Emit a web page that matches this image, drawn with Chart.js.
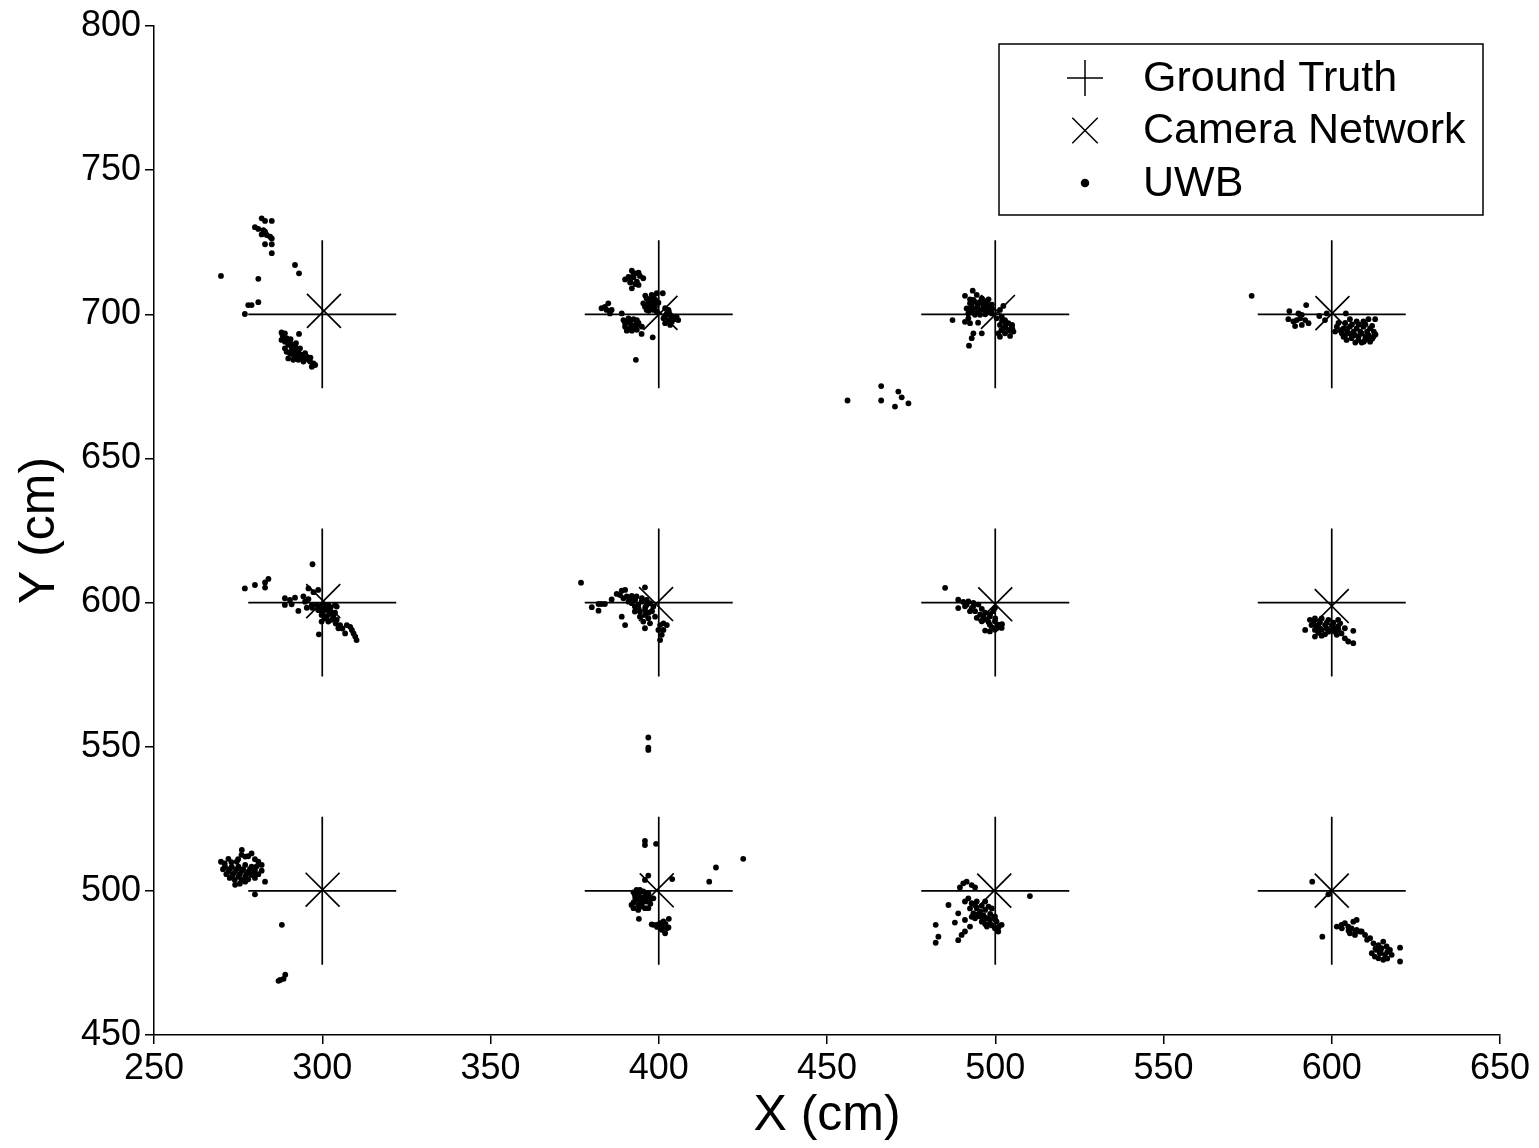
<!DOCTYPE html>
<html>
<head>
<meta charset="utf-8">
<title>Localization: Ground Truth vs Camera Network vs UWB</title>
<script src="https://cdn.jsdelivr.net/npm/chart.js@4/dist/chart.umd.min.js"></script>
<style>
  html, body { margin: 0; padding: 0; background: #fff; }
  #wrap { width: 1539px; height: 1148px; }
</style>
</head>
<body>
<div id="wrap"><canvas id="plot" width="1539" height="1148"></canvas></div>
<script>
// Grid of reference positions (cm)
const gridX = [300, 400, 500, 600];
const gridY = [700, 600, 500];

// Camera network estimates, one per grid position (row by row, top to bottom)
const cameraX = [300.5, 400.5, 500.8, 600.2, 300.3, 399.2, 500.0, 600.0, 300.1, 399.4, 499.7, 600.0];
const cameraY = [701.2, 700.5, 700.8, 700.4, 600.5, 599.5, 599.4, 598.8, 500.4, 500.2, 500.1, 500.1];

// UWB position fixes [x, y] in cm, grouped by the grid position being measured
const uwb300_700 = [
  [282.0,733.3],[283.0,732.4],[285.0,732.4],[280.0,730.2],[281.0,729.6],[282.5,729.2],[283.0,728.7],
  [282.0,727.7],[283.5,727.5],[284.5,726.9],[285.0,726.3],[283.0,724.3],[285.0,724.3],[285.0,721.2],
  [291.9,717.1],[293.1,714.2],[269.9,713.3],[281.0,712.3],[278.0,703.2],[279.0,703.2],[281.0,704.2],
  [277.0,700.1],[293.1,693.2],
  [287.9,693.7],[288.9,693.4],[288.4,692.2],[287.9,691.1],[288.9,690.5],[289.4,691.7],[289.9,689.4],
  [290.9,688.8],[291.9,689.4],[292.4,688.2],[292.9,687.0],[293.4,685.9],[292.4,685.3],[291.4,685.9],
  [290.4,686.5],[289.4,687.0],[289.9,684.7],[291.4,684.2],[292.9,684.2],[293.9,684.7],[294.4,683.6],
  [295.4,685.3],[295.9,684.2],[296.4,683.6],[297.4,683.0],[297.9,682.4],[296.9,681.8],[294.9,686.5],
  [293.4,688.2],[288.9,688.2],[293.9,685.9],[291.9,687.0],
  [288.2,692.8],[289.5,690.5],[290.5,690.0],[291.0,687.8],[293.0,686.5],[294.5,685.0],[296.5,685.0],
  [292.2,690.0],[290.6,691.4]
];
const uwb400_700 = [
  [392.0,715.1],[393.0,714.2],[394.0,714.4],[391.0,713.0],[392.5,712.8],[394.4,713.3],[395.4,712.5],
  [390.0,712.1],[391.5,711.9],[393.5,711.3],[393.0,710.5],[394.0,710.2],[392.0,709.0],
  [399.4,707.3],[401.2,707.3],[397.9,706.7],[396.4,705.5],[397.4,705.2],[398.4,704.4],[395.4,703.8],
  [396.9,703.8],[397.9,703.2],[398.9,702.6],[395.9,702.6],[397.4,702.1],[396.4,701.5],[398.4,701.5],
  [399.4,700.9],[399.9,704.0],
  [401.9,702.1],[402.9,701.5],[402.4,700.3],[403.4,699.8],[404.4,699.2],[401.4,698.6],[402.9,698.0],
  [403.9,697.4],[404.8,698.3],[405.8,698.0],[401.9,696.9],[403.4,696.3],[405.3,699.2],
  [383.0,702.1],[384.0,702.6],[385.0,703.8],[384.5,701.5],[386.0,701.5],[385.5,700.3],[389.0,700.3],
  [389.5,698.0],[391.0,698.6],[392.5,698.3],[393.5,697.4],[390.0,696.9],[391.5,696.9],[393.0,696.3],
  [394.0,696.3],[390.0,695.7],[391.5,695.1],[393.0,695.1],[390.5,694.3],[392.0,694.3],[393.5,694.6],
  [395.0,695.7],[394.9,693.2],[398.2,692.0],[393.2,684.2],
  [396.0,706.5],[398.5,706.0],[397.0,704.0],[399.0,705.0],[396.0,703.0],[398.5,703.5],[397.0,701.2],
  [403.0,700.8],[404.0,698.8],[402.0,699.5],[391.0,697.5],[392.0,696.0],[393.5,698.0],[392.5,695.0],
  [391.0,694.8],[394.0,697.0],[392.5,713.8],[391.5,711.0]
];
const uwb500_700 = [
  [456.1,670.1],[466.1,675.1],[466.1,670.1],[471.2,673.2],[472.2,671.2],[470.2,668.0],[474.2,669.1],
  [491.0,706.4],[493.3,708.2],[494.5,706.7],[496.0,705.5],[498.0,705.2],[493.5,705.0],[492.5,703.8],
  [495.0,703.8],[496.5,703.2],[498.0,702.7],[499.0,701.7],[494.5,702.1],[493.0,701.5],[496.0,701.5],
  [497.5,700.9],[492.0,700.3],[494.0,699.8],[495.5,699.8],[502.4,702.9],[501.4,701.5],[487.3,698.0],
  [491.0,697.4],[492.5,696.9],[494.9,697.1],[492.0,698.6],[500.4,698.6],[501.9,699.2],[502.9,698.0],
  [503.9,696.9],[501.4,696.3],[502.4,695.1],[504.4,694.6],[505.4,694.0],[500.9,693.4],[502.9,693.4],
  [504.4,692.5],[501.4,692.2],[493.5,693.4],[496.0,693.4],[493.0,691.7],[492.2,689.1],[497.5,703.8],
  [504.9,695.7],
  [492.5,705.2],[494.0,704.3],[495.5,704.3],[497.0,704.4],[499.0,703.3],[493.0,702.8],[494.8,703.0],
  [496.5,702.3],[498.0,701.5],[491.5,702.0],[493.5,700.5],[495.0,700.8],[497.0,700.0],[499.0,700.3],
  [503.0,697.3],[504.0,694.5],[503.0,695.8],[501.8,694.5],[505.0,696.3],[502.0,697.8]
];
const uwb600_700 = [
  [576.2,706.4],[592.4,703.2],[587.4,701.1],[590.1,700.3],[591.1,699.8],[587.1,698.3],[588.6,697.5],
  [589.6,698.0],[590.6,698.6],[592.1,698.0],[593.1,696.9],[589.1,695.9],[591.1,696.3],[596.3,699.4],
  [598.5,700.3],[604.2,700.3],[612.9,698.3],[598.0,698.0],
  [605.4,698.3],[607.4,697.5],[609.4,697.5],[610.9,698.3],[601.5,695.7],[603.5,695.1],[605.4,695.7],
  [607.4,695.1],[609.4,695.7],[611.4,695.1],[601.0,694.0],[603.0,693.4],[605.0,693.4],[606.9,692.8],
  [608.9,693.4],[610.9,692.8],[603.5,692.2],[605.9,691.7],[607.9,691.1],[609.9,691.1],[611.4,690.5],
  [608.9,690.2],[604.4,691.1],[612.4,692.2],
  [602.0,697.0],[604.0,697.0],[606.0,696.5],[608.0,696.5],[610.0,696.5],[612.0,696.0],[602.5,694.5],
  [604.5,694.5],[606.5,694.0],[608.5,694.0],[610.5,694.0],[612.5,694.0],[604.0,692.8],[606.0,692.5],
  [608.0,692.3],[610.0,692.2],[612.0,691.5],[607.0,690.2],[609.5,690.5],[611.0,691.8],[613.0,693.0]
];
const uwb300_600 = [
  [297.1,613.3],[277.0,604.9],[280.0,606.1],[283.0,605.2],[283.0,607.0],[284.0,608.2],[295.9,604.9],
  [298.8,604.4],[297.4,603.6],[288.9,601.5],[290.4,600.9],[291.9,601.7],[288.9,599.2],[290.9,599.4],
  [294.4,602.1],[294.9,600.3],[295.9,601.2],[292.9,597.1],[295.4,598.2],[296.9,599.2],[298.4,599.2],
  [299.3,598.6],[300.3,599.2],[301.8,599.2],[303.8,599.2],[298.8,597.4],[300.3,596.9],[301.8,597.4],
  [302.8,596.6],[299.8,595.7],[301.3,595.1],[303.3,595.1],[299.8,593.4],[301.8,593.4],[304.3,594.0],
  [305.3,592.2],[304.8,591.1],[307.3,592.2],[308.3,591.6],[308.8,590.5],[306.8,589.3],[309.3,589.3],
  [309.8,588.2],[310.2,587.0],[299.0,589.0],[304.3,598.6],
  [297.0,598.2],[299.0,597.5],[300.8,598.0],[302.5,598.4],[300.0,596.0],[302.0,596.0],[303.8,596.5],
  [300.8,594.5],[302.8,594.0],[304.0,592.7],[306.0,591.0]
];
const uwb400_600 = [
  [376.9,606.9],[380.1,598.4],[382.1,597.2],[382.1,599.5],[383.0,599.5],[384.0,599.5],[386.0,601.1],
  [387.5,603.0],[389.0,604.1],[390.0,604.4],[388.5,602.6],[389.5,601.5],[390.5,602.1],[392.0,602.3],
  [393.4,602.1],[395.9,605.3],[391.0,600.3],[392.0,599.8],[392.9,598.6],[393.9,599.2],[394.9,600.3],
  [396.4,600.9],[397.4,599.8],[398.4,598.6],[392.9,596.9],[394.4,596.9],[395.9,597.4],[394.4,595.1],
  [395.9,595.7],[396.9,594.6],[395.4,593.4],[397.4,592.8],[398.9,595.1],[389.0,595.1],[390.0,592.2],
  [395.9,591.1],[400.4,592.2],[401.4,592.8],[399.9,590.5],[401.4,590.5],[400.9,588.8],[400.4,587.0],
  [402.4,592.2],[396.4,599.2],
  [393.0,601.0],[395.0,601.5],[394.0,598.0],[396.0,598.4],[397.0,596.5],[393.5,597.8],[398.0,597.0],
  [391.5,601.3]
];
const uwb500_600 = [
  [485.1,605.1],[489.0,601.0],[490.5,600.2],[492.0,600.4],[493.5,599.9],[489.0,598.1],[491.0,598.7],
  [493.0,598.1],[495.0,599.3],[494.0,597.0],[495.5,595.8],[494.5,594.7],[496.5,595.2],[497.5,594.1],
  [496.0,593.5],[498.4,595.2],[499.4,597.0],[498.4,592.3],[499.9,593.5],[500.9,592.3],[501.9,591.2],
  [497.0,590.3],[498.4,590.0],[499.9,590.6],[499.9,598.1],[492.5,597.0],
  [491.5,599.3],[493.5,598.8],[496.0,597.8],[497.0,596.5],[498.5,596.0],[496.5,594.0],[498.0,593.3],
  [500.0,594.5],[500.5,591.2],[499.0,591.4],[502.0,592.5]
];
const uwb600_600 = [
  [592.1,590.5],[593.5,594.0],[595.0,594.5],[597.0,594.5],[599.0,594.0],[601.9,594.0],[594.0,592.2],
  [596.0,592.2],[598.0,592.2],[600.0,592.2],[601.9,591.7],[603.9,591.1],[595.0,590.5],[597.0,590.5],
  [599.0,589.9],[600.9,589.9],[602.9,589.3],[595.0,588.2],[606.4,590.2],[603.9,587.6],[604.9,586.5],
  [606.4,585.9],[595.5,591.7],[600.9,591.1],
  [594.5,593.0],[596.5,593.2],[598.5,593.0],[600.5,593.0],[602.5,592.8],[596.5,591.0],[598.5,591.0],
  [600.0,590.8],[602.0,590.5],[596.0,589.5],[598.0,589.0],[601.5,588.8],[597.0,588.5]
];
const uwb300_500 = [
  [276.1,514.2],[279.0,513.0],[272.1,511.1],[269.9,510.1],[274.6,510.1],[277.1,511.9],[281.0,510.1],
  [271.1,508.4],[273.1,508.4],[275.1,508.4],[277.1,509.0],[279.0,508.4],[272.1,506.7],[274.1,506.7],
  [276.1,506.9],[278.0,506.7],[280.0,507.3],[273.1,504.9],[275.1,504.9],[277.1,504.9],[279.0,505.5],
  [281.0,505.8],[274.1,502.1],[277.1,503.2],[283.0,503.2],[280.0,498.8],[288.0,488.2],[287.5,469.1],
  [288.5,469.5],[289.0,470.9],[287.0,468.8],
  [271.0,509.5],[273.0,510.0],[275.0,511.0],[276.0,512.5],[278.0,512.0],[280.0,511.0],[282.0,509.0],
  [270.5,507.5],[272.5,507.5],[274.5,507.5],[276.5,507.5],[278.5,507.5],[280.5,508.5],[282.0,507.0],
  [271.5,505.8],[273.5,505.8],[275.5,505.8],[277.5,505.8],[279.5,506.0],[274.0,503.8],[276.0,503.8],
  [278.0,504.0],[280.0,504.5],[275.5,502.5],[272.5,504.5]
];
const uwb400_500 = [
  [396.9,553.2],[396.9,549.7],[396.9,548.9],[395.9,517.3],[395.9,515.9],[399.2,516.3],[425.1,511.1],
  [417.0,508.1],[415.0,503.2],[404.0,504.1],[396.9,505.3],[395.9,503.8],
  [393.4,500.3],[394.4,500.3],[395.4,499.8],[396.9,499.2],[392.9,498.6],[394.4,498.0],[395.9,497.4],
  [397.4,496.9],[398.4,497.4],[393.4,496.9],[394.9,496.3],[396.4,496.3],[393.9,495.1],[391.9,495.1],
  [395.9,494.0],[396.9,494.0],[393.9,493.4],[394.1,490.3],[403.0,490.3],
  [398.4,488.2],[399.4,488.2],[400.4,488.8],[401.4,489.4],[397.9,488.4],[402.4,487.0],[400.9,486.5],
  [401.9,485.3],[402.9,487.3],
  [392.5,499.5],[394.0,499.0],[396.0,498.5],[393.0,497.5],[395.0,497.5],[397.0,498.0],[392.5,496.0],
  [395.0,495.5],[397.5,495.5],[394.5,494.5],[392.5,494.0],[399.5,487.5],[401.0,487.8],[402.0,488.5]
];
const uwb500_500 = [
  [489.5,501.2],[490.5,502.6],[491.5,503.2],[493.0,502.0],[494.0,501.2],[510.3,498.2],[486.1,495.1],
  [489.0,492.2],[492.0,497.4],[491.0,496.3],[493.0,495.7],[494.5,496.3],[497.0,496.3],[492.5,493.9],
  [494.5,493.9],[493.5,492.2],[495.5,492.8],[497.0,493.4],[499.0,493.9],[491.0,489.9],[488.0,489.0],
  [494.0,490.5],[495.5,491.1],[497.5,490.5],[499.9,491.1],[496.0,489.3],[498.4,488.8],[500.4,489.3],
  [501.9,488.2],[497.5,487.6],[499.9,487.0],[500.9,485.9],[492.5,487.6],[491.0,485.9],[490.0,484.7],
  [489.0,482.9],[482.3,488.2],[483.1,484.1],[482.3,482.0],
  [494.0,495.0],[496.0,494.8],[498.0,494.5],[493.0,491.0],[494.8,491.8],[496.5,491.5],[498.5,492.0],
  [496.5,490.0],[498.5,490.2],[499.0,488.0],[501.0,487.5],[497.0,488.5],[500.0,490.0]
];
const uwb600_500 = [
  [594.2,503.2],[599.0,498.8],[597.2,484.1],[601.5,487.6],[602.9,488.2],[603.9,488.8],[604.9,487.6],
  [606.4,489.3],[607.4,489.9],[605.9,487.0],[607.4,486.5],[605.4,485.3],[606.9,484.7],[608.4,485.9],
  [609.9,484.7],[611.4,483.6],[612.4,481.8],[613.9,481.2],[615.3,482.4],[613.4,479.5],[614.8,480.1],
  [616.3,480.7],[617.3,479.5],[611.9,478.4],[614.3,478.4],[615.8,477.8],[617.8,477.8],[615.3,476.1],
  [613.9,476.6],[620.3,480.3],[620.3,475.5],[608.9,485.9],
  [603.0,487.0],[605.0,486.2],[607.0,485.8],[610.5,483.0],[613.0,480.0],[614.5,479.0],[616.5,478.8],
  [612.8,477.2],[616.5,476.5]
];

// Axis ticks
const xTicks = [250, 300, 350, 400, 450, 500, 550, 600, 650];
const yTicks = [450, 500, 550, 600, 650, 700, 750, 800];

const FONT = '"Liberation Sans", Arial, Helvetica, sans-serif';

// Build point lists for the library
const truthPoints = [];
gridY.forEach(y => gridX.forEach(x => truthPoints.push({ x, y })));
const cameraPoints = cameraX.map((x, i) => ({ x, y: cameraY[i] }));
const uwbPoints = [].concat(
  uwb300_700, uwb400_700, uwb500_700, uwb600_700,
  uwb300_600, uwb400_600, uwb500_600, uwb600_600,
  uwb300_500, uwb400_500, uwb500_500, uwb600_500
).map(p => ({ x: p[0], y: p[1] }));

// Boxed legend in the upper-right corner of the plot area
const boxedLegend = {
  id: 'boxedLegend',
  afterDraw(chart) {
    const ctx = chart.ctx;
    const area = chart.chartArea;
    const bx = area.right - 501, by = area.top + 18, bw = 484, bh = 171;
    ctx.save();
    ctx.fillStyle = '#fff';
    ctx.fillRect(bx, by, bw, bh);
    ctx.strokeStyle = '#000';
    ctx.lineWidth = 1.5;
    ctx.strokeRect(bx, by, bw, bh);
    const sizes = [18, 18, 3.5];
    chart.data.datasets.forEach((ds, i) => {
      const cy = by + 34 + i * 52.5;
      ctx.strokeStyle = '#000';
      ctx.fillStyle = '#000';
      ctx.lineWidth = 1.5;
      Chart.helpers.drawPoint(ctx, { pointStyle: ds.pointStyle, radius: sizes[i], rotation: 0, borderWidth: 1.5 }, bx + 86, cy);
      ctx.font = '43px ' + FONT;
      ctx.textBaseline = 'middle';
      ctx.textAlign = 'left';
      ctx.fillText(ds.label, bx + 144, cy + 1);
    });
    ctx.restore();
  }
};

const axisCommon = {
  type: 'linear',
  grid: { display: true, drawOnChartArea: false, drawTicks: true, tickLength: 9, color: '#000', lineWidth: 1.5 },
  border: { display: true, color: '#000', width: 1.5 },
};

new Chart(document.getElementById('plot'), {
  type: 'scatter',
  data: {
    datasets: [
      {
        label: 'Ground Truth',
        data: truthPoints,
        pointStyle: 'cross',
        pointRadius: 74,
        borderColor: '#000',
        backgroundColor: '#000',
        borderWidth: 1.7,
        showLine: false
      },
      {
        label: 'Camera Network',
        data: cameraPoints,
        pointStyle: 'crossRot',
        pointRadius: 24,
        borderColor: '#000',
        backgroundColor: '#000',
        borderWidth: 1.7,
        showLine: false
      },
      {
        label: 'UWB',
        data: uwbPoints,
        pointStyle: 'circle',
        pointRadius: 2.9,
        borderWidth: 0,
        backgroundColor: '#000',
        borderColor: '#000',
        showLine: false
      }
    ]
  },
  options: {
    responsive: false,
    animation: false,
    events: [],
    layout: { autoPadding: false, padding: { top: 26, right: 39, left: 0, bottom: 0 } },
    plugins: { legend: { display: false }, tooltip: { enabled: false } },
    scales: {
      x: Object.assign({}, axisCommon, {
        min: 250, max: 650,
        afterBuildTicks: s => { s.ticks = xTicks.map(v => ({ value: v })); },
        afterFit: s => { s.height = 113; s.paddingLeft = 0; s.paddingRight = 0; },
        ticks: { color: '#000', padding: 3, maxRotation: 0, autoSkip: false, font: { family: FONT, size: 36 } },
        title: { display: true, text: 'X (cm)', color: '#000', font: { family: FONT, size: 50 }, padding: { top: 0, bottom: 2 } }
      }),
      y: Object.assign({}, axisCommon, {
        min: 450, max: 800,
        afterBuildTicks: s => { s.ticks = yTicks.map(v => ({ value: v })); },
        afterFit: s => { s.width = 154; s.paddingTop = 0; s.paddingBottom = 0; },
        ticks: { color: '#000', padding: 4, autoSkip: false, font: { family: FONT, size: 36 } },
        title: { display: true, text: 'Y (cm)', color: '#000', font: { family: FONT, size: 50 }, padding: { top: 10, bottom: 0 } }
      })
    }
  },
  plugins: [boxedLegend]
});
</script>
</body>
</html>
